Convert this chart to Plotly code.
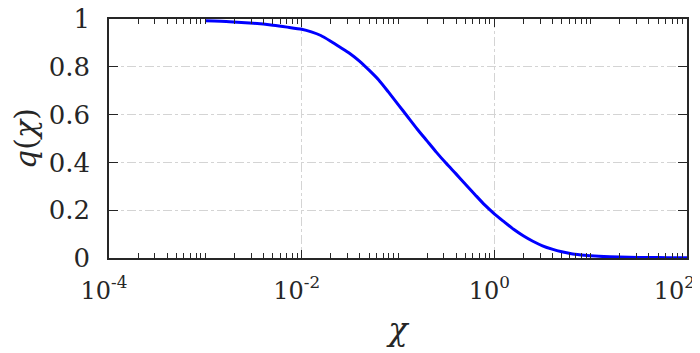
import plotly.graph_objects as go

# Data
chi = [0.001, 0.00178, 0.00316, 0.00501, 0.00708, 0.01, 0.0126, 0.0158, 0.02,
       0.0251, 0.0316, 0.0398, 0.0501, 0.0631, 0.0794, 0.1, 0.126, 0.158, 0.2,
       0.251, 0.316, 0.398, 0.501, 0.631, 0.794, 1.0, 1.259, 1.585, 1.995,
       2.512, 3.162, 3.981, 5.012, 6.31, 7.943, 10.0, 15.85, 25.12, 39.81,
       63.1, 100.0]
q = [0.993, 0.989, 0.982, 0.974, 0.966, 0.957, 0.946, 0.931, 0.907,
     0.882, 0.856, 0.824, 0.786, 0.745, 0.695, 0.643, 0.591, 0.540, 0.490,
     0.442, 0.396, 0.353, 0.309, 0.265, 0.222, 0.185, 0.152, 0.120, 0.093,
     0.070, 0.051, 0.037, 0.026, 0.018, 0.013, 0.009, 0.005, 0.003, 0.002,
     0.0015, 0.001]

x_tickvals = [1e-4, 1e-2, 1e0, 1e2]
x_ticktext = ["10<sup>-4</sup>", "10<sup>-2</sup>", "10<sup>0</sup>",
              "10<sup>2</sup>&nbsp;&nbsp;"]
y_tickvals = [0, 0.2, 0.4, 0.6, 0.8, 1]
y_ticktext = ["0", "0.2", "0.4", "0.6", "0.8", "1"]

minor_vals = [m * 10.0 ** k for k in range(-4, 2) for m in range(1, 10)] + [100.0]
minor_vals = [v for v in minor_vals if v not in x_tickvals]

axis_color = "#262626"
font_family = "DejaVu Serif"

fig = go.Figure()
fig.add_trace(go.Scatter(
    x=chi, y=q, mode="lines",
    line=dict(color="#0000ff", width=3, shape="spline", smoothing=0.6),
    showlegend=False,
))

fig.update_layout(
    width=700, height=353,
    margin=dict(l=101, r=21, t=11, b=103),
    paper_bgcolor="white", plot_bgcolor="white",
    font=dict(family=font_family, size=26, color=axis_color),
)

fig.update_xaxes(
    type="log", range=[-4, 2], automargin=False,
    tickmode="array", tickvals=x_tickvals, ticktext=x_ticktext,
    ticks="inside", ticklen=8, tickwidth=1.2, tickcolor=axis_color,
    showline=True, linecolor=axis_color, linewidth=1.5, mirror="ticks",
    showgrid=True, gridcolor="#d4d4d4", griddash="dashdot", gridwidth=1,
    zeroline=False,
    minor=dict(tickmode="array", tickvals=minor_vals, ticks="inside",
               ticklen=5, tickwidth=1.2, tickcolor=axis_color, showgrid=False),
    ticklabelstandoff=10, ticklabelshift=-5, ticklabeloverflow="allow",
    tickfont=dict(family=font_family, size=24, color=axis_color),
    title=dict(text="<i>χ</i>", font=dict(family=font_family, size=32, color=axis_color),
               standoff=14),
)

fig.update_yaxes(
    range=[0, 1], automargin=False,
    tickmode="array", tickvals=y_tickvals, ticktext=y_ticktext,
    ticks="inside", ticklen=9, tickwidth=1.2, tickcolor=axis_color,
    showline=True, linecolor=axis_color, linewidth=1.5, mirror="ticks",
    showgrid=True, gridcolor="#d4d4d4", griddash="dashdot", gridwidth=1,
    zeroline=False,
    ticklabelstandoff=12, ticklabeloverflow="allow",
    tickfont=dict(family=font_family, size=26, color=axis_color),
    title=dict(text="<i>q</i>(<i>χ</i>)", font=dict(family=font_family, size=30, color=axis_color),
               standoff=3),
)

fig.write_html("out.html")
